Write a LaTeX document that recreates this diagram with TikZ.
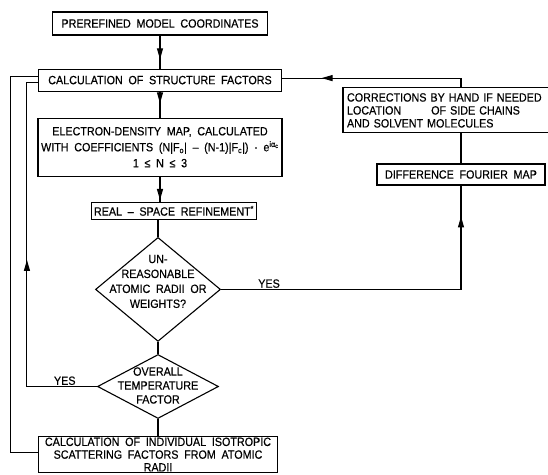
\documentclass[tikz,border=0pt]{standalone}
\usepackage{fontspec}
\setmainfont{Liberation Sans}[WordSpace=1.9, FakeStretch=0.9, FakeBold=0.4]
\usetikzlibrary{arrows.meta,positioning,shapes.geometric,decorations.markings}

\begin{document}
\begin{tikzpicture}[x=1bp, y=1bp, node distance=25bp and 20bp,
    box/.style={rectangle, draw, line width=1.1bp, inner sep=2bp, align=center, font=\fontsize{12}{13}\selectfont},
    cond/.style={diamond, draw, line width=1.1bp, inner sep=0pt},
    link/.style={line width=1.1bp},
    midarrow/.style={link, postaction={decorate}, decoration={markings, mark=at position #1 with {\arrow{Triangle[length=11bp,width=6bp]}}}},
    lbl/.style={font=\fontsize{12}{15}\selectfont, inner sep=1bp}]
    \useasboundingbox (0,0) rectangle (548,475);

    % main column
    \node[box, minimum width=215bp, minimum height=23bp] (model) at (160,451.5) {PREREFINED MODEL COORDINATES};
    \node[box, minimum width=243bp, minimum height=22bp, below=33bp of model] (sfcalc) {CALCULATION OF STRUCTURE FACTORS};
    \node[box, minimum width=244bp, minimum height=58bp, below=26bp of sfcalc, font=\fontsize{12}{16}\selectfont] (edmap)
        {ELECTRON-DENSITY MAP, CALCULATED\\ WITH COEFFICIENTS (N|F\textsubscript{o}| -- (N-1)|F\textsubscript{c}|) · e\textsuperscript{iα\textsubscript{c}}\\ 1 ≤ N ≤ 3};
    \node[box, minimum width=165bp, minimum height=17bp, below=25bp of edmap, xshift=14bp] (rsref) {REAL -- SPACE REFINEMENT\textsuperscript{*}};
    \node[cond, minimum width=125bp, minimum height=104bp, below=17bp of rsref, xshift=-16bp,
        label={[lbl, align=center, yshift=8bp]center:UN-\\REASONABLE\\ATOMIC RADII OR\\WEIGHTS?}] (radii) {};
    \node[cond, minimum width=121bp, minimum height=64bp, below=12bp of radii,
        label={[lbl, align=center, yshift=1bp, font=\fontsize{12}{14}\selectfont]center:OVERALL\\TEMPERATURE\\FACTOR}] (tempf) {};
    \node[box, minimum width=239bp, inner xsep=3bp, inner ysep=1bp, below=17bp of tempf, font=\fontsize{12}{12.8}\selectfont] (scatt)
        {CALCULATION OF INDIVIDUAL ISOTROPIC\\ SCATTERING FACTORS FROM ATOMIC\\ RADII};

    % right branch
    \node[box, minimum width=168bp, minimum height=21bp] (diffmap) at (461,300.5) {DIFFERENCE FOURIER MAP};
    \node[box, text width=205bp, inner sep=4bp, minimum height=45bp, align=left, above=30bp of diffmap, xshift=-11.5bp] (handfix)
        {CORRECTIONS BY HAND IF NEEDED\\ LOCATION\hspace{30bp}OF SIDE CHAINS\\ AND SOLVENT MOLECULES};

    \draw[midarrow=0.72] (model) -- (sfcalc);
    \draw[midarrow=0.45] (sfcalc) -- (edmap);
    \draw[midarrow=0.93] (edmap.south) -- (edmap.south |- rsref.north);
    \draw[link] (rsref.south -| radii.north) -- (radii.north);
    \draw[link] (radii) -- (tempf);
    \draw[link] (tempf) -- (scatt);

    \draw[midarrow=0.91] (radii.east) -| node[lbl, above, pos=0.1] {YES} (diffmap.south);
    \draw[link] (diffmap.north) -- (diffmap.north |- handfix.south);
    \draw[midarrow=0.79] (diffmap.north |- handfix.north) |- ([yshift=2bp]sfcalc.east);

    \draw[midarrow=0.51] (tempf.west) -| node[lbl, above, pos=0.23] {YES} ([xshift=-11bp,yshift=-2bp]sfcalc.west) -- ([yshift=-2bp]sfcalc.west);
    \draw[link] ([yshift=2bp]scatt.west) -| ([xshift=-27bp,yshift=4bp]sfcalc.west) -- ([yshift=4bp]sfcalc.west);
\end{tikzpicture}
\end{document}
